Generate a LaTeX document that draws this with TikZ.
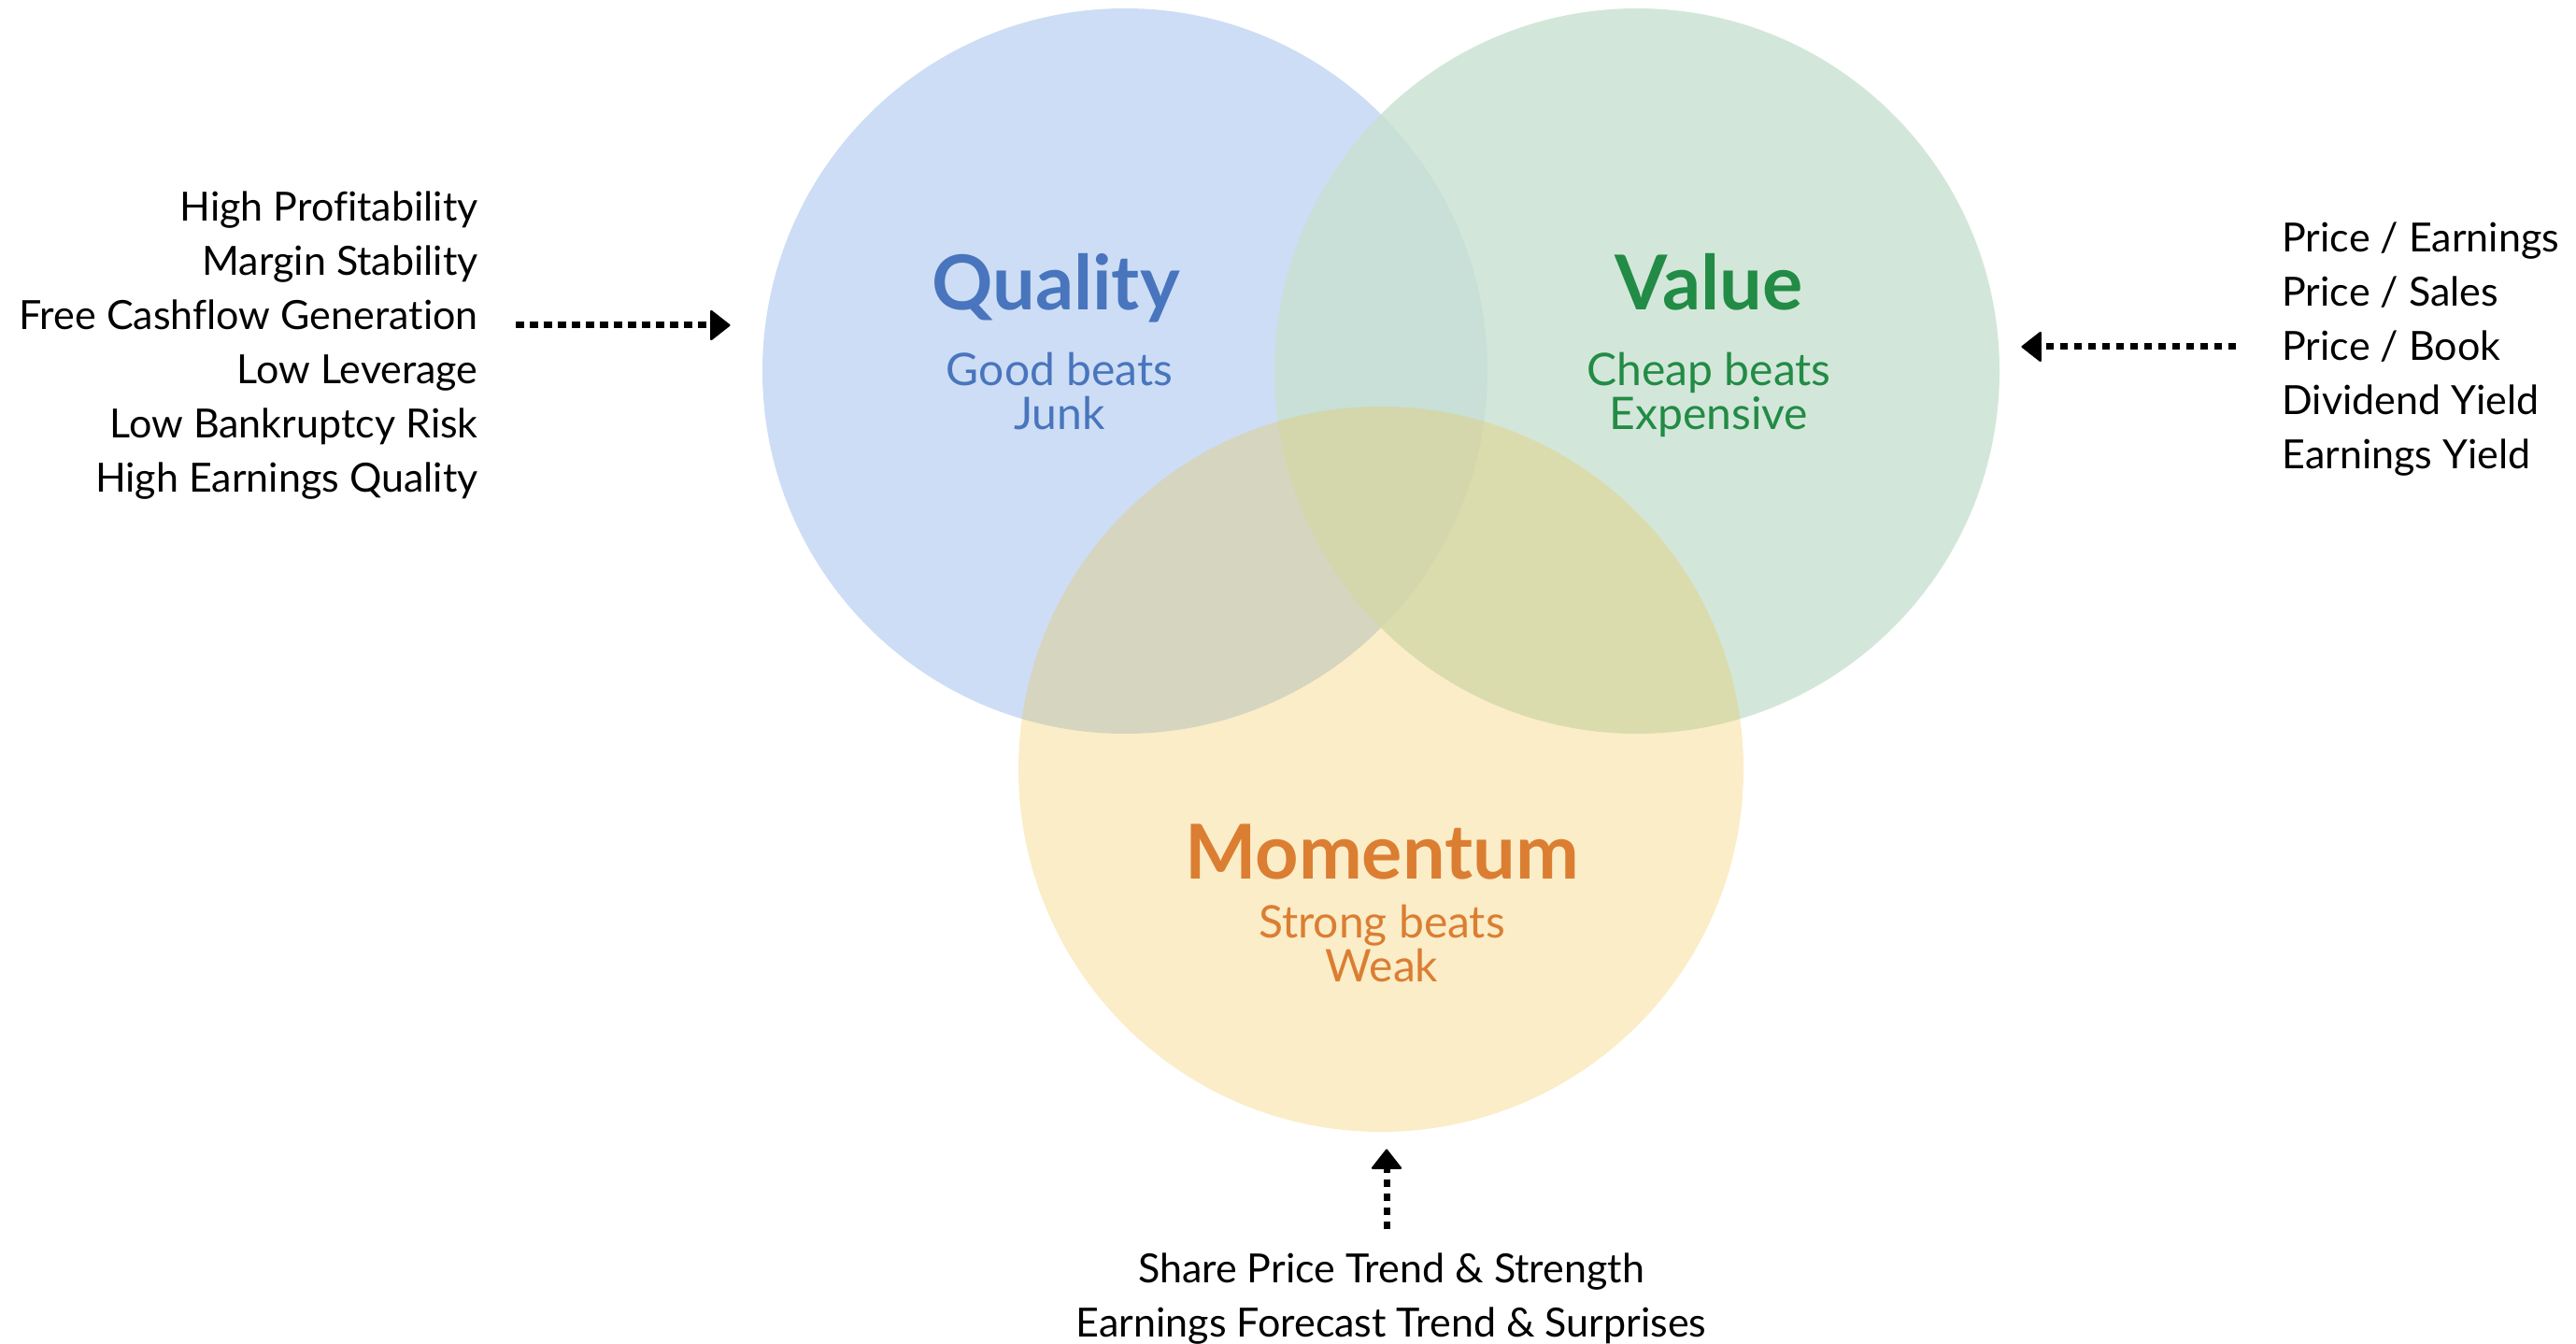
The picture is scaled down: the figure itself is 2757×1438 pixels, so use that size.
\documentclass[tikz,border=0pt]{standalone}
\usepackage{fontspec}
\setmainfont{Lato}[Ligatures=NoCommon]
\usetikzlibrary{arrows.meta}

\definecolor{qualfill}{RGB}{205,221,245}
\definecolor{valfill}{RGB}{199,225,208}
\definecolor{momfill}{RGB}{238,195,72}
\definecolor{qualtext}{RGB}{72,117,189}
\definecolor{valtext}{RGB}{34,139,69}
\definecolor{momtext}{RGB}{219,126,50}

\begin{document}
\begin{tikzpicture}[x=0.5pt,y=-0.5pt,
  setcircle/.style={circle, inner sep=0pt, minimum size=388pt, draw=none},
  settitle/.style={font=\fontsize{40.5}{40}\selectfont\bfseries, anchor=base, inner sep=0pt},
  motto/.style={font=\fontsize{24}{24}\selectfont, anchor=base, inner sep=0pt},
  listitem/.style={font=\fontsize{21.5}{29}\selectfont, inner sep=0pt},
  flow/.style={line width=3.5pt, dash pattern=on 4.25pt off 3.25pt,
    -{Triangle[length=11pt,width=17pt,round,line width=1pt]}}]
\useasboundingbox (0,0) rectangle (2757,1438);

% the three factor circles
\node[setcircle, fill=qualfill] (quality) at (1204,397) {};
\node[setcircle, fill=valfill, fill opacity=0.8] (value) at (1752,397) {};
\node[setcircle, fill=momfill, fill opacity=0.3] (momentum) at (1478,823) {};

% circle titles and mottos
\node[settitle, text=qualtext] (qtitle) at (1130,332) {Quality};
\node[motto, text=qualtext] (qmotto1) at (1134,413) {Good beats};
\node[motto, text=qualtext] (qmotto2) at (1134,460) {Junk};

\node[settitle, text=valtext] (vtitle) at (1829,332) {Value};
\node[motto, text=valtext] (vmotto1) at (1829,413) {Cheap beats};
\node[motto, text=valtext] (vmotto2) at (1829,460) {Expensive};

\node[settitle, text=momtext] (mtitle) at (1479,940) {Momentum};
\node[motto, text=momtext] (mmotto1) at (1479,1003) {Strong beats};
\node[motto, text=momtext] (mmotto2) at (1479,1050) {Weak};

% metric lists
\foreach \t [count=\i] in {High Profitability, Margin Stability, Free Cashflow Generation, Low Leverage, Low Bankruptcy Risk, High Earnings Quality}
  \node[listitem, anchor=base east] (ql\i) at (512,178.5+58*\i) {\t};

\foreach \t [count=\i] in {Price / Earnings, Price / Sales, Price / Book, Dividend Yield, Earnings Yield}
  \node[listitem, anchor=base west] (vl\i) at (2442,212+58*\i) {\t};

\node[listitem, anchor=base] (ml1) at (1489,1372) {Share Price Trend \& Strength};
\node[listitem, anchor=base] (ml2) at (1489,1430) {Earnings Forecast Trend \& Surprises};

% dotted arrows into the circles
\coordinate (qtail) at (552,348);
\coordinate (vtail) at (2393,371);
\coordinate (mtail) at (1484,1315);
\draw[flow, shorten >=17pt] (qtail) -- (qtail -| quality.west);
\draw[flow, shorten >=11.5pt] (vtail) -- (vtail -| value.east);
\draw[flow, shorten >=9pt] (mtail) -- (mtail |- momentum.south);
\end{tikzpicture}
\end{document}
